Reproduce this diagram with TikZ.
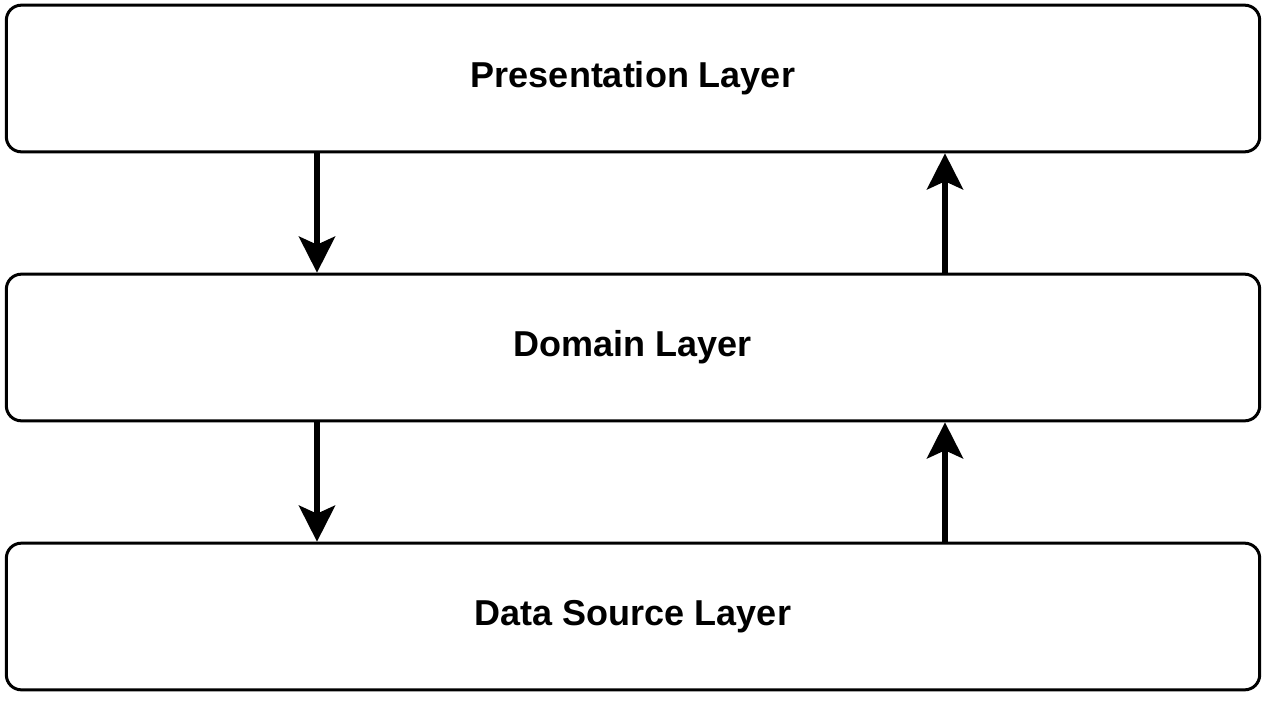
\documentclass[tikz,border=0pt]{standalone}
\usepackage{fontspec}
\setmainfont{Liberation Sans}
\usetikzlibrary{arrows.meta}

\tikzset{
  layer/.style={draw, line width=2.25pt, rounded corners=11.25pt,
    minimum width=940pt, minimum height=110pt,
    font=\fontsize{27}{32}\selectfont\bfseries},
  flow/.style={line width=4.5pt, -{Stealth[length=27pt, width=27pt, inset=6pt]}}
}

\begin{document}
\begin{tikzpicture}[x=0.75pt, y=-0.75pt]
\useasboundingbox (0,0) rectangle (1266,703);

\node[layer] (pres) at (633,78.5) {Presentation Layer};
\node[layer] (dom) at (633,347.5) {Domain Layer};
\node[layer] (data) at (633,616.5) {Data Source Layer};

% requests go down, results come back up
\draw[flow] (pres.south -| 317,0) -- (dom.north -| 317,0);
\draw[flow] (dom.north -| 945,0) -- (pres.south -| 945,0);
\draw[flow] (dom.south -| 317,0) -- (data.north -| 317,0);
\draw[flow] (data.north -| 945,0) -- (dom.south -| 945,0);
\end{tikzpicture}
\end{document}
